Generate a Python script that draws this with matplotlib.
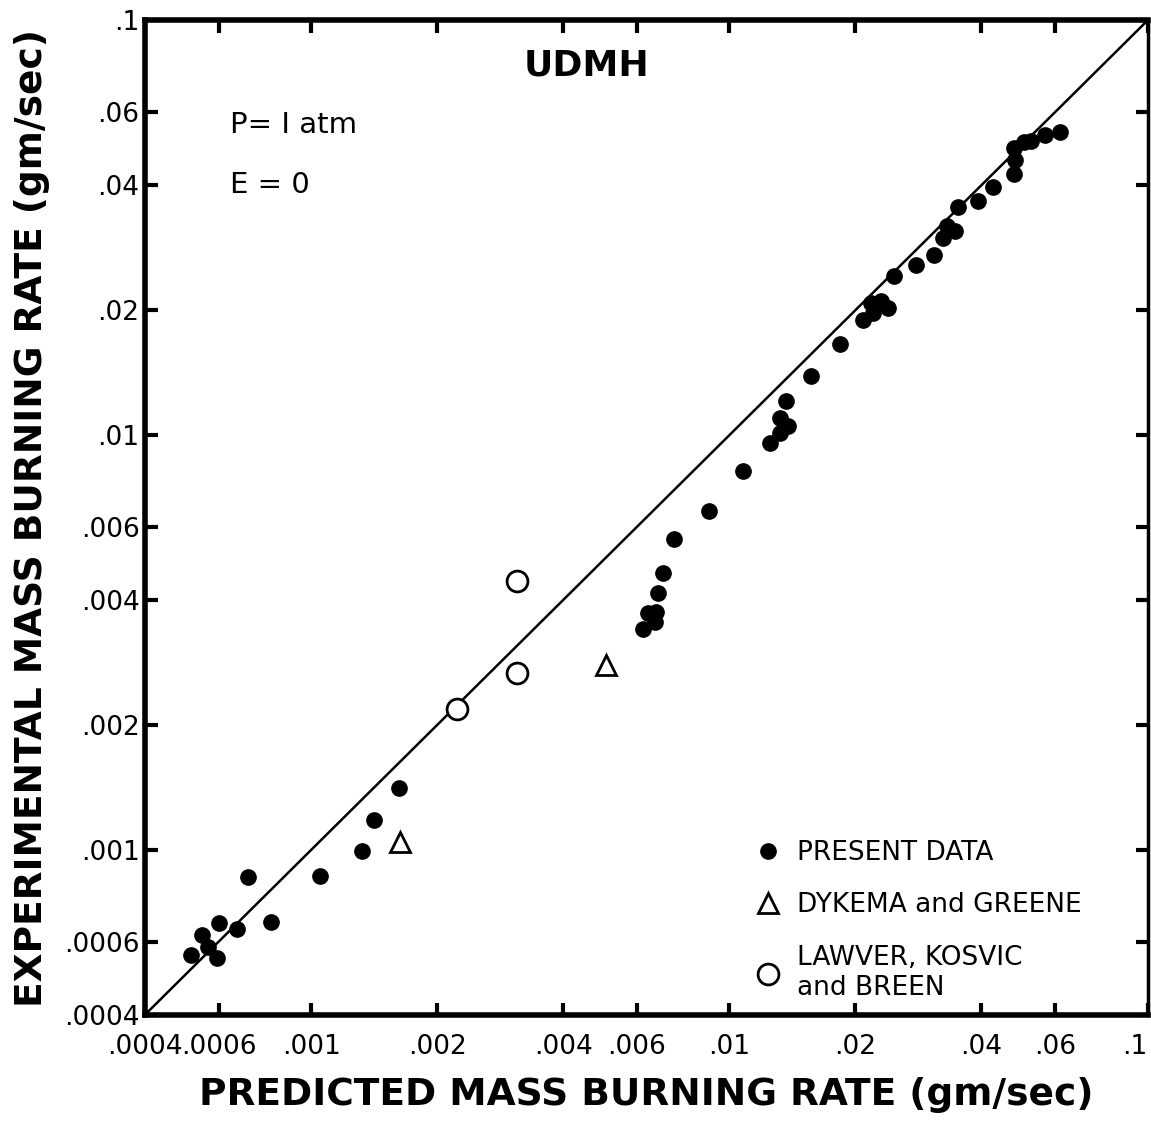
import matplotlib.pyplot as plt
from matplotlib.lines import Line2D
import numpy as np

# UDMH droplet burning: predicted vs experimental mass burning rate (gm/sec)
present_pred = [5.16e-4, 5.46e-4, 5.67e-4, 5.96e-4, 6.0e-4, 6.62e-4, 7.07e-4, 8.02e-4,
                1.05e-3, 1.32e-3, 1.41e-3, 1.62e-3,
                6.22e-3, 6.37e-3, 6.68e-3, 6.62e-3, 6.73e-3, 6.92e-3, 7.38e-3, 8.91e-3,
                1.080e-2, 1.247e-2, 1.318e-2, 1.384e-2, 1.324e-2, 1.369e-2, 1.563e-2,
                1.843e-2, 2.081e-2, 2.175e-2, 2.30e-2, 2.39e-2, 2.21e-2, 2.47e-2,
                2.79e-2, 3.08e-2, 3.25e-2, 3.32e-2, 3.47e-2, 3.53e-2, 3.92e-2, 4.26e-2,
                4.78e-2, 4.83e-2, 4.78e-2, 5.05e-2, 5.25e-2, 5.70e-2, 6.19e-2]
present_exp = [5.58e-4, 6.21e-4, 5.84e-4, 5.49e-4, 6.67e-4, 6.45e-4, 8.61e-4, 6.71e-4,
               8.65e-4, 9.95e-4, 1.18e-3, 1.41e-3,
               3.41e-3, 3.72e-3, 3.74e-3, 3.54e-3, 4.16e-3, 4.65e-3, 5.61e-3, 6.56e-3,
               8.19e-3, 9.57e-3, 1.011e-2, 1.052e-2, 1.099e-2, 1.208e-2, 1.387e-2,
               1.656e-2, 1.892e-2, 2.08e-2, 2.10e-2, 2.02e-2, 1.97e-2, 2.42e-2,
               2.57e-2, 2.72e-2, 2.98e-2, 3.19e-2, 3.10e-2, 3.54e-2, 3.66e-2, 3.96e-2,
               4.26e-2, 4.60e-2, 4.92e-2, 5.08e-2, 5.11e-2, 5.28e-2, 5.37e-2]

dykema_pred = [1.63e-3, 5.08e-3]
dykema_exp = [1.045e-3, 2.79e-3]

lawver_pred = [2.23e-3, 3.10e-3, 3.11e-3]
lawver_exp = [2.19e-3, 2.67e-3, 4.45e-3]

tick_vals = [0.0004, 0.0006, 0.001, 0.002, 0.004, 0.006, 0.01, 0.02, 0.04, 0.06, 0.1]
tick_labels = ['.0004', '.0006', '.001', '.002', '.004', '.006', '.01', '.02', '.04', '.06', '.1']
lims = (0.0004, 0.1)

fig = plt.figure(figsize=(11.51, 11.35), dpi=100)
ax = fig.add_axes([0.126, 0.106, 0.871, 0.876])
ax.set_xscale('log')
ax.set_yscale('log')
ax.set_xlim(lims)
ax.set_ylim(lims)

# line of perfect agreement
ax.plot(lims, lims, color='black', lw=1.8, zorder=1)

ax.plot(present_pred, present_exp, 'o', color='black', ms=11, ls='none', zorder=3)
ax.plot(dykema_pred, dykema_exp, '^', mfc='white', mec='black', mew=2, ms=14, ls='none', zorder=3)
ax.plot(lawver_pred, lawver_exp, 'o', mfc='white', mec='black', mew=2, ms=15, ls='none', zorder=3)

ax.minorticks_off()
ax.set_xticks(tick_vals)
ax.set_xticklabels(tick_labels)
ax.set_yticks(tick_vals)
ax.set_yticklabels(tick_labels)
ax.tick_params(axis='both', which='major', direction='in', length=9, width=3,
               labelsize=19, top=True, right=True)
ax.tick_params(axis='x', pad=14)
ax.tick_params(axis='y', pad=4)
# keep the last x label inside the figure
ax.get_xticklabels()[-1].set_horizontalalignment('right')

for side in ['left', 'bottom', 'top']:
    ax.spines[side].set_linewidth(4)
ax.spines['right'].set_linewidth(2.5)

ax.set_xlabel('PREDICTED MASS BURNING RATE (gm/sec)', fontsize=27, fontweight='bold',
              labelpad=12)
ax.set_ylabel('EXPERIMENTAL MASS BURNING RATE (gm/sec)', fontsize=27, fontweight='bold',
              labelpad=10)

ax.text(0.44, 0.955, 'UDMH', transform=ax.transAxes, fontsize=26, fontweight='bold',
        ha='center', va='center')
ax.text(0.085, 0.895, 'P= I atm', transform=ax.transAxes, fontsize=21, va='center')
ax.text(0.085, 0.834, 'E = 0', transform=ax.transAxes, fontsize=21, va='center')

handles = [
    Line2D([], [], marker='o', color='black', ls='none', ms=11),
    Line2D([], [], marker='^', mfc='white', mec='black', mew=2, ls='none', ms=14),
    Line2D([], [], marker='o', mfc='white', mec='black', mew=2, ls='none', ms=15),
]
labels = ['PRESENT DATA', 'DYKEMA and GREENE', 'LAWVER, KOSVIC\nand BREEN']
ax.legend(handles, labels, loc='lower left', bbox_to_anchor=(0.585, -0.01), frameon=False,
          fontsize=19, handlelength=1.0, handletextpad=0.6, labelspacing=1.0)

fig.savefig('out.png', dpi=100)
